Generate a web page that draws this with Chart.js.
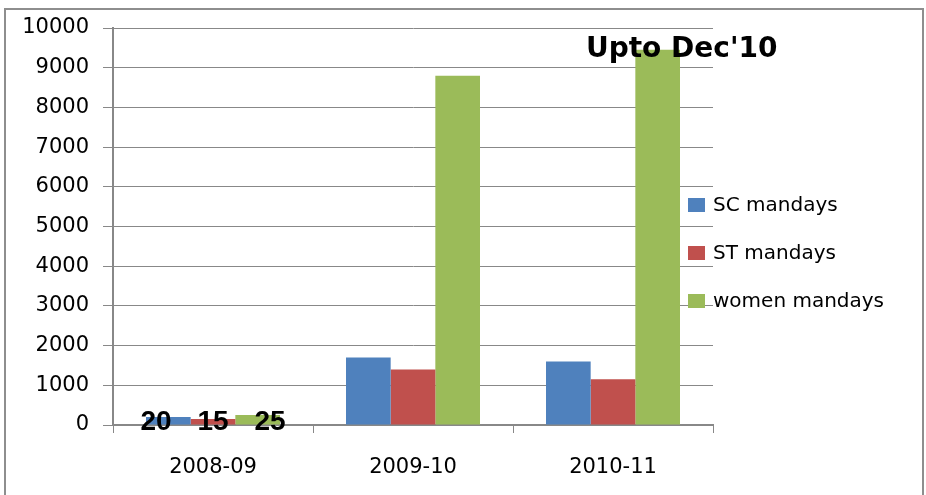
<!DOCTYPE html>
<html>
<head>
<meta charset="utf-8">
<script src="https://cdn.jsdelivr.net/npm/chart.js@4.4.0/dist/chart.umd.min.js"></script>
<style>
  body { margin: 0; background: #fff; }
  #wrap { position: relative; width: 926px; height: 495px; overflow: hidden; }
  #frame {
    position: absolute; left: 4px; top: 8px; width: 916px; height: 600px;
    border: 2px solid #8e8e8e; pointer-events: none;
  }
  canvas { position: absolute; left: 0; top: 0; }
</style>
</head>
<body>
<div id="wrap">
  <canvas id="chart" width="926" height="495"></canvas>
  <div id="frame"></div>
</div>
<script>
const years = ["2008-09", "2009-10", "2010-11"];
const scMandays = [200, 1700, 1600];
const stMandays = [150, 1400, 1150];
const womenMandays = [250, 8800, 9450];
// text typed on the first group of bars
const firstGroupLabels = ["20", "15", "25"];
const note = "Upto Dec'10";

const colors = ["#4F81BD", "#C0504D", "#9BBB59"];

// labels + note + legend
const extrasPlugin = {
  id: "extras",
  afterDatasetsDraw(chart) {
    const ctx = chart.ctx;
    const x = chart.scales.x;
    const y = chart.scales.y;
    ctx.save();
    ctx.fillStyle = "#000";
    ctx.font = "bold 28px 'Liberation Sans'";
    ctx.textAlign = "center";
    ctx.textBaseline = "alphabetic";
    const cx = x.getPixelForValue(0);
    firstGroupLabels.forEach((t, i) => {
      ctx.fillText(t, cx + (i - 1) * 57, y.getPixelForValue(0) + 5);
    });

    // note above last green bar
    const g = chart.getDatasetMeta(2).data[2];
    ctx.font = "bold 28px 'DejaVu Sans'";
    ctx.fillText(note, g.x + 24, 57);

    // legend
    const area = chart.chartArea;
    ctx.font = "20px 'DejaVu Sans'";
    ctx.textAlign = "left";
    ctx.textBaseline = "middle";
    chart.data.datasets.forEach((ds, i) => {
      const cy = 205 + i * 48;
      ctx.fillStyle = ds.backgroundColor;
      ctx.fillRect(area.right - 25, cy - 7, 17, 14);
      ctx.fillStyle = "#000";
      ctx.fillText(ds.label, area.right, cy + 1);
    });
    ctx.restore();
  }
};

new Chart(document.getElementById("chart").getContext("2d"), {
  type: "bar",
  data: {
    labels: years,
    datasets: [
      { label: "SC mandays", data: scMandays, backgroundColor: colors[0] },
      { label: "ST mandays", data: stMandays, backgroundColor: colors[1] },
      { label: "women mandays", data: womenMandays, backgroundColor: colors[2] },
    ],
  },
  options: {
    responsive: false,
    animation: false,
    events: [],
    layout: { padding: { left: 0, right: 213, top: 28, bottom: 0 } },
    datasets: { bar: { categoryPercentage: 0.67, barPercentage: 1.0 } },
    plugins: { legend: { display: false }, tooltip: { enabled: false } },
    scales: {
      x: {
        afterFit: (s) => { s.height = 70; },
        grid: { drawOnChartArea: false, drawTicks: true, tickLength: 8, color: "#888", offset: true },
        border: { display: true, color: "#888", width: 2 },
        ticks: { color: "#000", font: { family: "DejaVu Sans", size: 21 }, padding: 22 },
      },
      y: {
        min: 0,
        max: 10000,
        afterFit: (s) => { s.width = 113; },
        grid: { color: "#888", lineWidth: 1, tickLength: 10 },
        border: { display: true, color: "#888", width: 2 },
        ticks: {
          stepSize: 1000,
          color: "#000",
          font: { family: "DejaVu Sans", size: 21 },
          padding: 14,
          callback: (v) => String(v),
        },
      },
    },
  },
  plugins: [extrasPlugin],
});
</script>
</body>
</html>
